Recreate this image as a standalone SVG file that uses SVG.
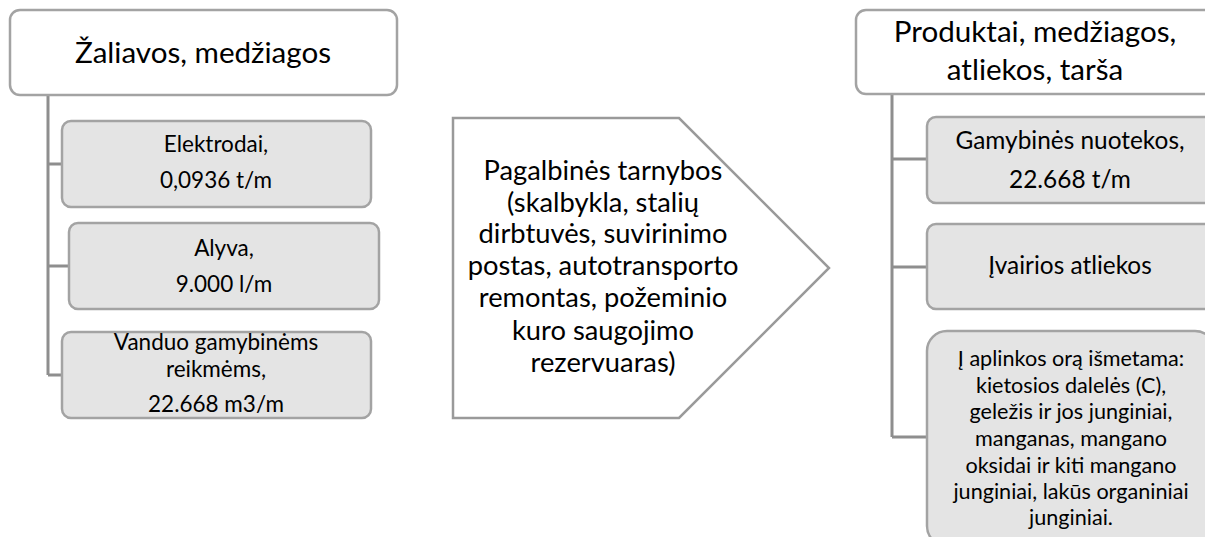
<svg xmlns="http://www.w3.org/2000/svg" width="1205" height="537" viewBox="0 0 1205 537">
<style>
.hdr{fill:#ffffff;stroke:#a3a3a3;stroke-width:2.5}
.box{fill:#e4e4e4;stroke:#a3a3a3;stroke-width:2.5}
.arrow{fill:#ffffff;stroke:#9a9a9a;stroke-width:2.5}
.conn{fill:none;stroke:#8e8e8e;stroke-width:3}
text{font-family:Lato,"Noto Sans",sans-serif;fill:#000;text-anchor:middle}
.t32{font-size:29.6px}
.t29{font-size:27.3px}
.t24{font-size:22.5px}
.t26{font-size:24.4px}
.t23{font-size:21.6px}
</style>
<g id="connectors">
<path class="conn" d="M48,95 V375 M48,164 H62 M48,266 H69 M48,375 H62"/>
<path class="conn" d="M892,94 V437 M892,159 H927 M892,267 H927 M892,437 H927"/>
</g>
<g id="left-header">
<rect class="hdr" x="10" y="10" width="387" height="85" rx="10"/>
<text class="t32" x="203" y="63">Žaliavos, medžiagos</text>
</g>
<g id="elektrodai">
<rect class="box" x="62" y="121" width="309" height="86" rx="9"/>
<text class="t24" x="216" y="152">Elektrodai,</text>
<text class="t24" x="216" y="188">0,0936 t/m</text>
</g>
<g id="alyva">
<rect class="box" x="69" y="223" width="310" height="86" rx="9"/>
<text class="t24" x="224" y="256">Alyva,</text>
<text class="t24" x="224" y="292">9.000 l/m</text>
</g>
<g id="vanduo">
<rect class="box" x="62" y="332" width="309" height="86" rx="9"/>
<text class="t24" x="216" y="350">Vanduo gamybinėms</text>
<text class="t24" x="216" y="377">reikmėms,</text>
<text class="t24" x="216" y="412">22.668 m3/m</text>
</g>
<g id="pagalbines">
<polygon class="arrow" points="453,118 679,118 829,268 679,418 453,418"/>
<text class="t29" x="603" y="180">Pagalbinės tarnybos</text>
<text class="t29" x="603" y="212">(skalbykla, stalių</text>
<text class="t29" x="603" y="243">dirbtuvės, suvirinimo</text>
<text class="t29" x="603" y="275">postas, autotransporto</text>
<text class="t29" x="603" y="307">remontas, požeminio</text>
<text class="t29" x="603" y="340">kuro saugojimo</text>
<text class="t29" x="603" y="372">rezervuaras)</text>
</g>
<g id="right-header">
<rect class="hdr" x="856" y="10" width="360" height="84" rx="10"/>
<text class="t32" x="1035" y="42">Produktai, medžiagos,</text>
<text class="t32" x="1035" y="80">atliekos, tarša</text>
</g>
<g id="nuotekos">
<rect class="box" x="927" y="117" width="288" height="86" rx="9"/>
<text class="t26" x="1070" y="149">Gamybinės nuotekos,</text>
<text class="t26" x="1070" y="188">22.668 t/m</text>
</g>
<g id="atliekos">
<rect class="box" x="927" y="224" width="288" height="85" rx="9"/>
<text class="t26" x="1070" y="274">Įvairios atliekos</text>
</g>
<g id="orui">
<rect class="box" x="927" y="331" width="288" height="215" rx="20"/>
<text class="t23" x="1071" y="366">Į aplinkos orą išmetama:</text>
<text class="t23" x="1071" y="393">kietosios dalelės (C),</text>
<text class="t23" x="1071" y="419">geležis ir jos junginiai,</text>
<text class="t23" x="1071" y="446">manganas, mangano</text>
<text class="t23" x="1071" y="473">oksidai ir kiti mangano</text>
<text class="t23" x="1071" y="499">junginiai, lakūs organiniai</text>
<text class="t23" x="1071" y="525">junginiai.</text>
</g>
</svg>
